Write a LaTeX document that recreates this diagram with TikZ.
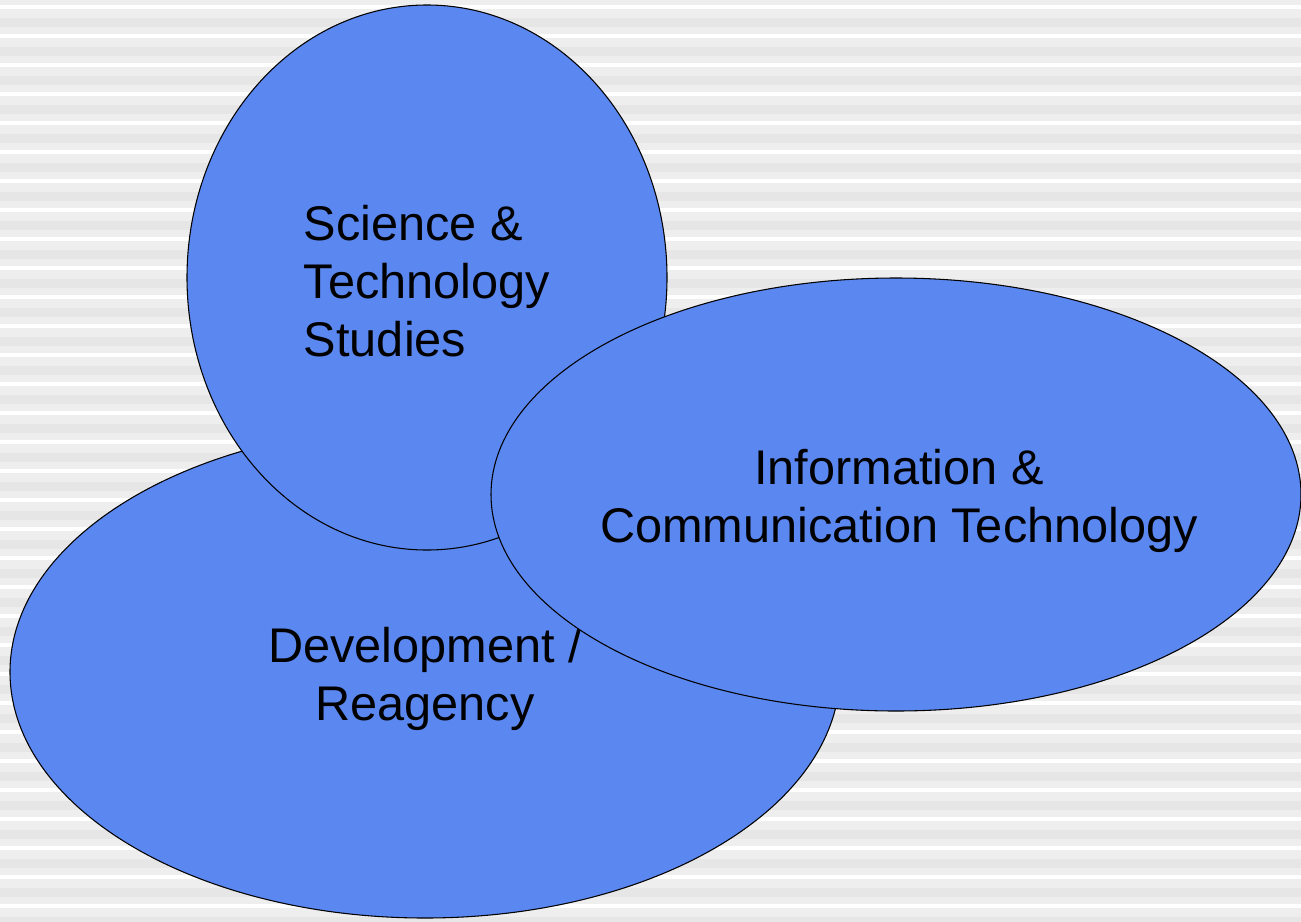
\documentclass[tikz,border=0pt]{standalone}
\usepackage{fontspec}
\setmainfont{Liberation Sans}
\usetikzlibrary{shapes.geometric}

\definecolor{bubblefill}{HTML}{5B87F0}
\definecolor{stripelight}{HTML}{EEEEEE}
\definecolor{stripedark}{HTML}{E6E6E6}

\tikzset{
  bubble/.style={ellipse,draw=black,line width=0.8pt,fill=bubblefill,inner sep=0pt},
  bubbletext/.style={font=\fontsize{36.5}{43.5}\selectfont,inner sep=0pt}
}

\begin{document}
\begin{tikzpicture}[x=0.75pt,y=-0.75pt]
        \useasboundingbox (0,0) rectangle (1301,921);
        % striped background
        \fill[stripelight] (0,0) rectangle (1301,921);
        \foreach \i in {0,...,31} {
          \fill[white] (0,5+29*\i) rectangle (1301,9+29*\i);
          \fill[stripedark] (0,18+29*\i) rectangle (1301,27+29*\i);
        }
        \node [bubble,minimum width=622.5pt,minimum height=369pt] (dev) at (425,672) {};
        \node [bubbletext,align=center] (devtext) at ([yshift=-5pt]dev.center) {Development /\\Reagency};
        \node [bubble,minimum width=360pt,minimum height=408.75pt] (sts) at (427,277.5) {};
        \node [bubbletext,align=left] (ststext) at ([yshift=-2.5pt]sts.center) {Science \&\\Technology\\Studies};
        \node [bubble,minimum width=607.5pt,minimum height=324.75pt] (ict) at (896,494.5) {};
        \node [bubbletext,align=center] (icttext) at ([xshift=2.25pt,yshift=-5pt]ict.center) {Information \&\\Communication Technology};
\end{tikzpicture}
\end{document}
